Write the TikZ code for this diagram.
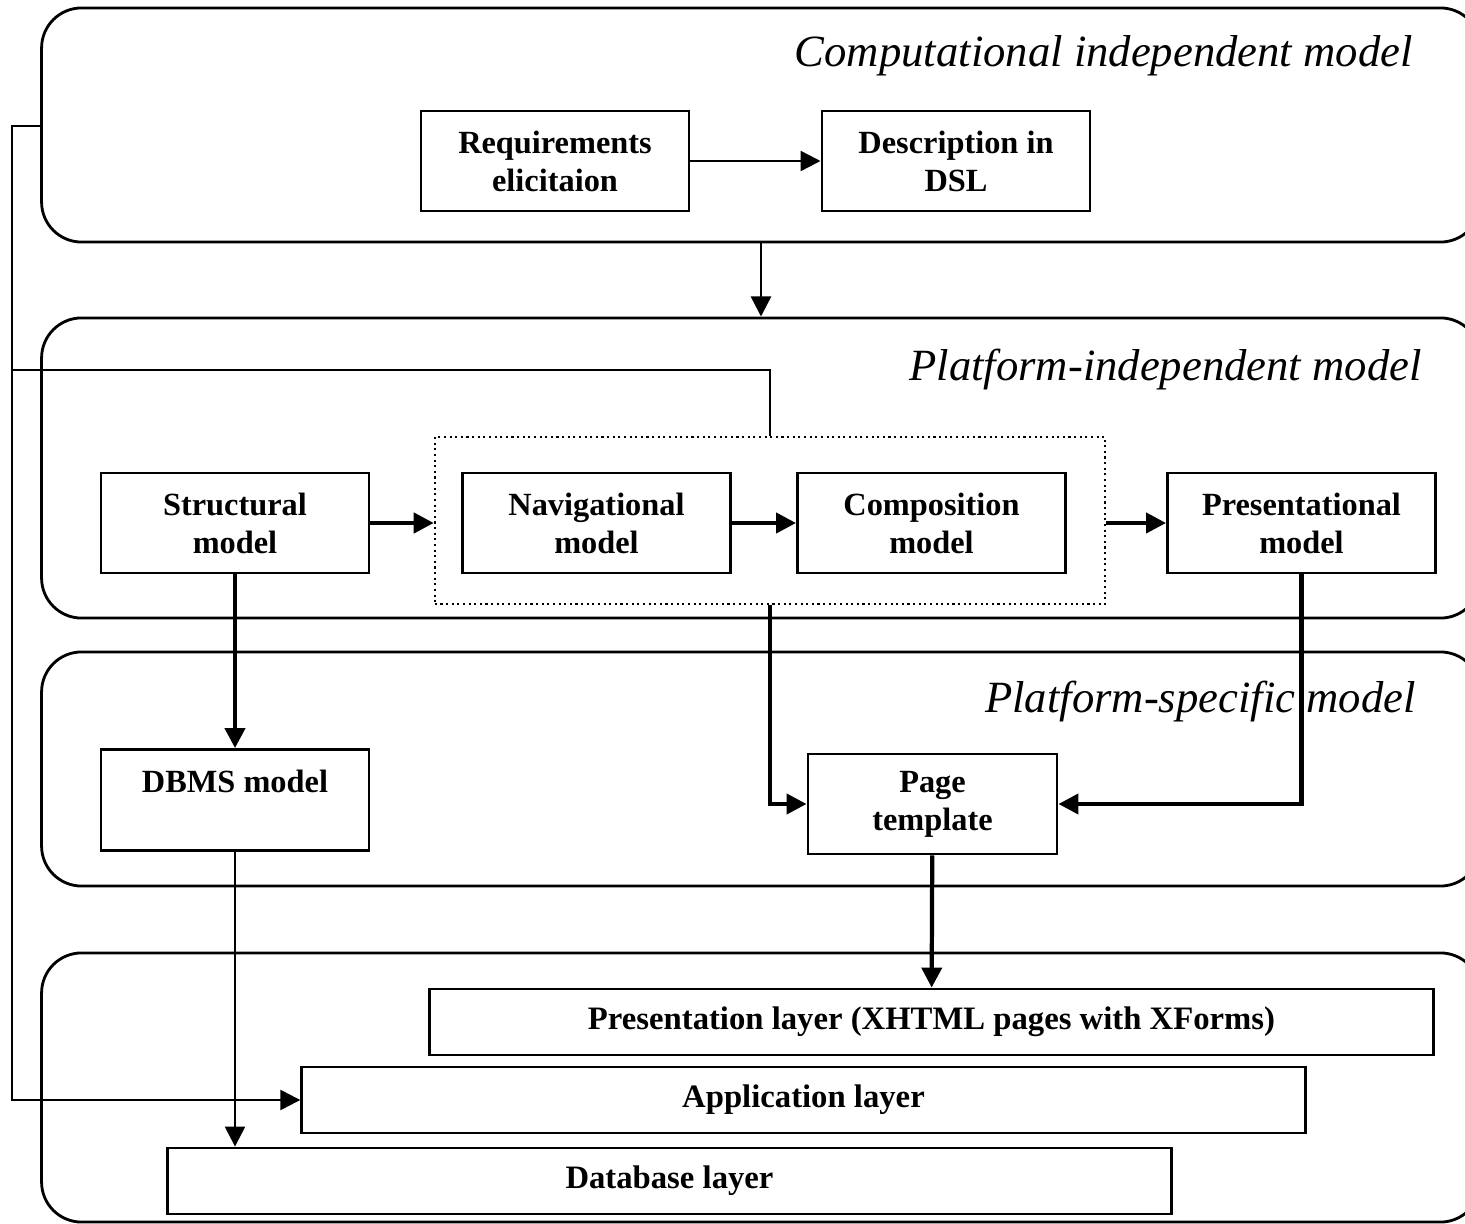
\documentclass[tikz,border=0pt]{standalone}
\usepackage{fontspec}
\setmainfont{Liberation Serif}
\usetikzlibrary{arrows.meta}
\tikzset{
	layer/.style={draw, rounded corners=0.4cm, line width=0.8pt, minimum width=14.38cm},
	block/.style={draw, line width=0.8pt, minimum width=2.68cm, minimum height=1.0cm, align=center, font=\fontsize{9.2}{10.8}\selectfont\bfseries},
	tier/.style={draw, line width=0.8pt, minimum width=10.03cm, minimum height=0.66cm, font=\fontsize{9.3}{10.8}\selectfont\bfseries},
	title/.style={anchor=east, font=\fontsize{12.7}{15}\selectfont\itshape},
	flow/.style={-{Triangle[length=0.2cm,width=0.2cm]}, line width=1.2pt},
	thinflow/.style={-{Triangle[length=0.2cm,width=0.2cm]}, line width=0.7pt},
	link/.style={line width=0.7pt}
}
\begin{document}
\begin{tikzpicture}[x=0.01cm, y=-0.01cm]
	\useasboundingbox (0,0) rectangle (1465,1224);
	% the four levels
	\node[layer, minimum height=2.34cm] (cim) at (761,125) {};
	\node[layer, minimum height=3.0cm] (pim) at (761,468) {};
	\node[layer, minimum height=2.34cm] (psm) at (761,769) {};
	\node[layer, minimum height=2.69cm] (impl) at (761,1087.5) {};
	\node[title] (cim title) at (1425,56) {Computational independent model};
	\node[title] (pim title) at (1434,370) {Platform-independent model};
	\node[title] (psm title) at (1428,702) {Platform-specific model};
	% models
	\node[block] (req) at (555,161) {Requirements\\elicitaion};
	\node[block] (dsl) at (956,161) {Description in\\DSL};
	\node[block] (struct) at (235,523) {Structural\\model};
	\node[block] (nav) at (596.5,523) {Navigational\\model};
	\node[block] (comp) at (931.5,523) {Composition\\model};
	\node[block] (pres) at (1301.5,523) {Presentational\\model};
	\node[draw, densely dotted, line width=0.6pt, minimum width=6.7cm, minimum height=1.67cm] (group) at (770,520.5) {};
	\node[block, minimum height=1.01cm] (dbms) at (235,800) {DBMS model\\~};
	\node[block, minimum width=2.49cm] (page) at (932.5,804) {Page\\template};
	% layers of the application
	\node[tier] (pres layer) at (931.5,1022) {Presentation layer (XHTML pages with XForms)};
	\node[tier] (app) at (803.5,1100) {Application layer};
	\node[tier] (db) at (669.5,1181) {Database layer};
	% connectors
	\coordinate (rail top) at (12,126);
	\coordinate (rail mid) at (12,370);
	\coordinate (rail bottom) at (12,1100);
	\draw[thinflow] (req) -- (dsl);
	\draw[thinflow] (cim) -- (pim);
	\draw[flow] (struct.east) -- (struct.east -| group.west);
	\draw[flow] (nav) -- (comp);
	\draw[flow] (pres.west -| group.east) -- (pres.west);
	\draw[flow] (struct) -- (dbms);
	\draw[flow] (group.south) |- (page);
	\draw[flow] (pres) |- (page);
	\draw[thinflow] (dbms.south) -- (dbms.south |- db.north);
	\draw[flow] (page) -- (pres layer);
	\draw[thinflow] (cim.west |- rail top) -- (rail top) -- (rail bottom) -- (app.west);
	\draw[link] (rail mid) -| (group.north);
\end{tikzpicture}
\end{document}
